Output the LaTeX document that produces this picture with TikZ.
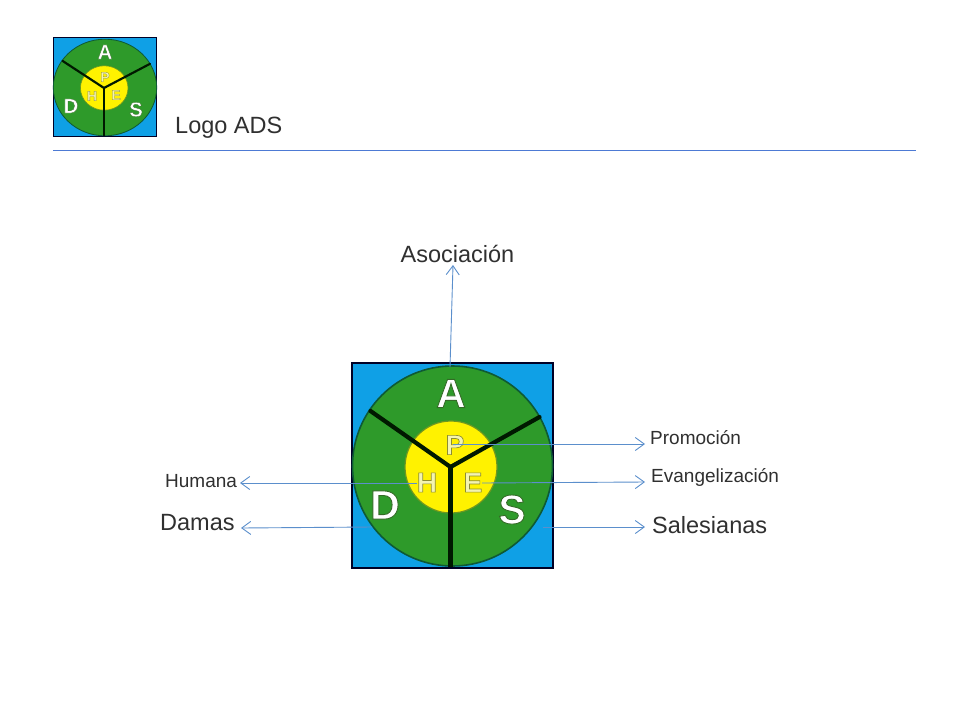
\documentclass[tikz,border=0pt]{standalone}
\usepackage{fontspec}
\setmainfont{Liberation Sans}
\usetikzlibrary{arrows.meta}
\definecolor{logoblue}{HTML}{0FA0E6}
\definecolor{logogreen}{HTML}{2E9A2A}
\definecolor{logoedge}{HTML}{0E5A35}
\definecolor{logoyellow}{HTML}{FFF200}
\definecolor{linkblue}{HTML}{5B8FCC}
\definecolor{textgray}{HTML}{303030}
\definecolor{paleletter}{HTML}{F4F4B0}
\newcommand{\outlined}[2]{\special{pdf:code q 2 Tr #2 w 0.2 0.42 0.15 RG}#1\special{pdf:code 0 Tr Q}}
\newcommand{\outlinedin}[2]{\special{pdf:code q 2 Tr #2 w 0.55 0.55 0.2 RG}#1\special{pdf:code 0 Tr Q}}
\tikzset{
  bigtext/.style={font=\fontsize{23.5}{26}\selectfont,text=textgray,inner sep=0pt},
  smalltext/.style={font=\fontsize{19}{22}\selectfont,text=textgray,inner sep=0pt},
  link/.style={draw=linkblue,line width=0.9pt,-{Straight Barb[length=9pt,width=13pt,line width=0.9pt]}},
  rulekey/.style={draw=linkblue!85!blue,line width=1pt},
  outerbig/.style={text=white,font=\bfseries\fontsize{41}{41}\selectfont,inner sep=0pt},
  innerbig/.style={text=paleletter,font=\bfseries\fontsize{28}{28}\selectfont,inner sep=0pt},
  outersmall/.style={text=white,font=\bfseries\fontsize{20.5}{21}\selectfont,inner sep=0pt},
  innersmall/.style={text=paleletter,font=\bfseries\fontsize{14}{14}\selectfont,inner sep=0pt}
}
% #1,#2 centre; #3,#4 scales
\newcommand{\adslogo}[4]{%
  \begin{scope}[shift={(#1,#2)},xscale=#3,yscale=#4]
    \fill[logoblue] (-100.5,-103) rectangle (100.5,102);
    \draw[black!85!blue,line width=#3*2pt] (-100.5,-103) rectangle (100.5,102);
    \fill[logogreen] (0,0) circle (100);
    \draw[logoedge,line width=#3*1.6pt] (0,0) circle (100);
    \fill[logoyellow] (-1.5,1) circle (46);
    \draw[logoedge!60!logoyellow,line width=#3*1.2pt] (-1.5,1) circle (46);
    \draw[black!90!green,line width=#3*4.2pt,line cap=round] (-2,1) -- (-82,-55);
    \draw[black!90!green,line width=#3*4.2pt,line cap=round] (-2,1) -- (87,-49);
    \draw[black!90!green,line width=#3*4.2pt] (-2,0) -- (-2,101);
  \end{scope}%
}
\begin{document}
\begin{tikzpicture}[x=1pt,y=-1pt]
\useasboundingbox (0,0) rectangle (960,720);
\fill[white] (0,0) rectangle (960,720);

% small logo
\adslogo{105}{87.5}{0.517}{0.483}
\node[outersmall] (sA) at (105,52) {\outlined{A}{0.3}};
\node[outersmall] (sD) at (71,106) {\outlined{D}{0.3}};
\node[outersmall] (sS) at (136,109.5) {\outlined{S}{0.3}};
\node[innersmall] (sP) at (105,77) {\outlinedin{P}{0.3}};
\node[innersmall] (sH) at (92,96) {\outlinedin{H}{0.3}};
\node[innersmall] (sE) at (116,95) {\outlinedin{E}{0.3}};

% large logo
\adslogo{452.5}{466}{1}{1}
\node[outerbig] (bA) at (451,393.5) {\outlined{A}{0.9}};
\node[outerbig] (bD) at (385,505) {\outlined{D}{0.9}};
\node[outerbig] (bS) at (512,509.5) {\outlined{S}{0.9}};
\node[innerbig] (bP) at (455,445) {\outlinedin{P}{0.7}};
\node[innerbig] (bH) at (427,482.5) {\outlinedin{H}{0.7}};
\node[innerbig] (bE) at (473,482.5) {\outlinedin{E}{0.7}};

% labels
\node[bigtext,anchor=west] (logoads) at (175,128) {Logo ADS};
\node[bigtext] (asoc) at (457.5,254) {Asociación};
\node[bigtext,anchor=west] (damas) at (160,523) {Damas};
\node[bigtext,anchor=west] (sales) at (652,525) {Salesianas};
\node[smalltext,anchor=west] (promo) at (650,438) {Promoción};
\node[smalltext,anchor=west] (evang) at (651,477) {Evangelización};
\node[smalltext,anchor=west] (human) at (165,481.5) {Humana};

% header rule
\coordinate (ruleL) at (53,150.5);
\coordinate (ruleR) at (916,150.5);
\draw[rulekey] (ruleL) -- (ruleR);

% connector ends
\coordinate (fromA) at (450,367);
\coordinate (toA) at (453,265);
\coordinate (fromP) at (453,444);
\coordinate (toP) at (645,444);
\coordinate (fromE) at (482,483);
\coordinate (toE) at (645,482);
\coordinate (fromH) at (417,483);
\coordinate (toH) at (240,483);
\coordinate (fromD) at (372,527);
\coordinate (toD) at (241,528);
\coordinate (fromS) at (543,527);
\coordinate (toS) at (645,527);
\draw[link] (fromA) -- (toA);
\draw[link] (fromP) -- (toP);
\draw[link] (fromE) -- (toE);
\draw[link] (fromH) -- (toH);
\draw[link] (fromD) -- (toD);
\draw[link] (fromS) -- (toS);
\end{tikzpicture}
\end{document}
